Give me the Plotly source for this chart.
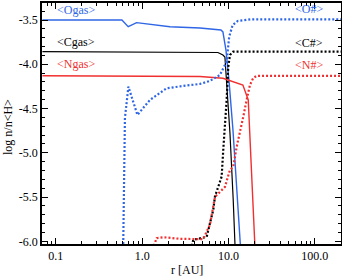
import plotly.graph_objects as go

# ---- data ----
ogas_r = [0.07, 0.583, 0.690, 0.863, 2.10, 4.68, 8.19, 8.63, 9.36, 10.13, 11.28, 12.54, 13.78, 14.3]
ogas_v = [-3.50, -3.50, -3.576, -3.530, -3.576, -3.590, -3.613, -3.635, -3.839, -4.177, -4.742, -5.419, -6.03, -6.3]

cgas_r = [0.07, 4.68, 7.55, 8.63, 9.10, 9.53, 10.41, 11.36, 11.89, 12.2]
cgas_v = [-3.858, -3.861, -3.867, -3.895, -3.918, -4.211, -4.775, -5.532, -6.06, -6.3]

ngas_r = [0.07, 4.68, 8.63, 14.7, 16.96, 18.7, 20.4, 20.8]
ngas_v = [-4.129, -4.138, -4.158, -4.234, -4.403, -5.25, -6.03, -6.3]

osol_r = [0.599, 0.604, 0.615, 0.632, 0.693, 0.882, 1.231, 1.608, 1.922, 2.99, 4.68, 6.10, 6.98, 7.97, 8.71, 9.53, 10.2, 11.19, 12.78, 18.2, 210]
osol_v = [-6.3, -6.03, -4.854, -4.606, -4.253, -4.572, -4.403, -4.324, -4.271, -4.245, -4.222, -4.188, -4.151, -4.121, -4.045, -3.971, -3.688, -3.556, -3.511, -3.492, -3.492]

csol_r = [3.78, 3.91, 5.59, 6.10, 6.67, 6.98, 7.62, 8.34, 8.71, 8.99, 9.53, 9.95, 10.41, 11.36, 210]
csol_v = [-6.05, -5.983, -5.950, -5.814, -5.644, -5.494, -5.381, -5.269, -4.967, -4.775, -4.403, -4.030, -3.895, -3.858, -3.858]

nsol_r = [1.37, 1.472, 1.756, 2.74, 5.10, 6.10, 6.98, 7.97, 9.11, 10.41, 11.36, 12.45, 13.59, 14.84, 16.25, 17.75, 19.37, 21.2, 210]
nsol_v = [-6.05, -5.964, -5.953, -5.972, -5.975, -5.814, -5.498, -5.441, -5.385, -5.193, -5.159, -4.933, -4.775, -4.595, -4.403, -4.234, -4.155, -4.132, -4.132]

x_tickvals = [0.1, 1.0, 10.0, 100.0]
x_ticktext = ["0.1", "1.0", "10.0", "100.0"]
y_tickvals = [-3.5, -4.0, -4.5, -5.0, -5.5, -6.0]
y_ticktext = ["-3.5", "-4.0", "-4.5", "-5.0", "-5.5", "-6.0"]

labels_left = ["&lt;Ogas&gt;", "&lt;Cgas&gt;", "&lt;Ngas&gt;"]
labels_right = ["&lt;O#&gt;", "&lt;C#&gt;", "&lt;N#&gt;"]
x_title = "r [AU]"
y_title = "log n/n&lt;H&gt;"

BLUE = "#2f66e6"
RED = "#f03030"
BLACK = "#000000"
FONT = "Liberation Serif"

fig = go.Figure()
series = [
    (ogas_r, ogas_v, BLUE, "solid", 1.4),
    (cgas_r, cgas_v, BLACK, "solid", 1.2),
    (ngas_r, ngas_v, RED, "solid", 1.4),
    (osol_r, osol_v, BLUE, "2px,2px", 2.2),
    (csol_r, csol_v, BLACK, "2px,2px", 2.2),
    (nsol_r, nsol_v, RED, "2px,2px", 2.2),
]
for r, v, c, d, w in series:
    fig.add_trace(go.Scatter(x=r, y=v, mode="lines",
                             line=dict(color=c, dash=d, width=w),
                             showlegend=False, hoverinfo="skip"))

colors = [BLUE, BLACK, RED]
ys_left = [0.971, 0.838, 0.747]
ys_right = [0.974, 0.835, 0.743]
for t, c, yy in zip(labels_left, colors, ys_left):
    fig.add_annotation(text=t, x=0.114, y=yy, xref="paper", yref="paper",
                       showarrow=False, xanchor="center", yanchor="middle",
                       font=dict(family=FONT, size=12, color=c))
for t, c, yy in zip(labels_right, colors, ys_right):
    fig.add_annotation(text=t, x=0.893, y=yy, xref="paper", yref="paper",
                       showarrow=False, xanchor="center", yanchor="middle",
                       font=dict(family=FONT, size=12, color=c))

fig.add_annotation(text=x_title, x=0.485, y=-0.108, xref="paper", yref="paper",
                   showarrow=False, xanchor="center", yanchor="middle",
                   font=dict(family=FONT, size=12, color="black"))
fig.add_annotation(text=y_title, x=-0.114, y=0.485, xref="paper", yref="paper",
                   showarrow=False, xanchor="center", yanchor="middle", textangle=-90,
                   font=dict(family=FONT, size=12, color="black"))

fig.update_layout(
    width=342, height=277,
    margin=dict(l=42, r=1, t=3, b=33),
    paper_bgcolor="white", plot_bgcolor="white",
    font=dict(family=FONT, size=12, color="black"),
    xaxis=dict(type="log", range=[-1.16, 2.304], automargin=False,
               tickvals=x_tickvals, ticktext=x_ticktext,
               tickfont=dict(family=FONT, size=12),
               ticks="inside", ticklen=6, tickwidth=1, tickcolor="black",
               showline=True, linecolor="black", linewidth=1.5, mirror="allticks",
               showgrid=False, zeroline=False,
               minor=dict(ticks="inside", ticklen=3, tickwidth=1, tickcolor="black",
                          tickvals=[m * 10 ** e for e in range(-2, 3) for m in range(2, 10)],
                          showgrid=False)),
    yaxis=dict(range=[-6.03, -3.308], automargin=False,
               tickvals=y_tickvals, ticktext=y_ticktext,
               tickfont=dict(family=FONT, size=12),
               ticks="inside", ticklen=6, tickwidth=1, tickcolor="black",
               showline=True, linecolor="black", linewidth=1.5, mirror="allticks",
               showgrid=False, zeroline=False,
               minor=dict(ticks="inside", ticklen=3, tickwidth=1, tickcolor="black",
                          dtick=0.1, showgrid=False)),
)

fig.write_html("out.html", config={"displayModeBar": False},
               post_script="document.body.style.margin='0';document.body.style.padding='0';")
